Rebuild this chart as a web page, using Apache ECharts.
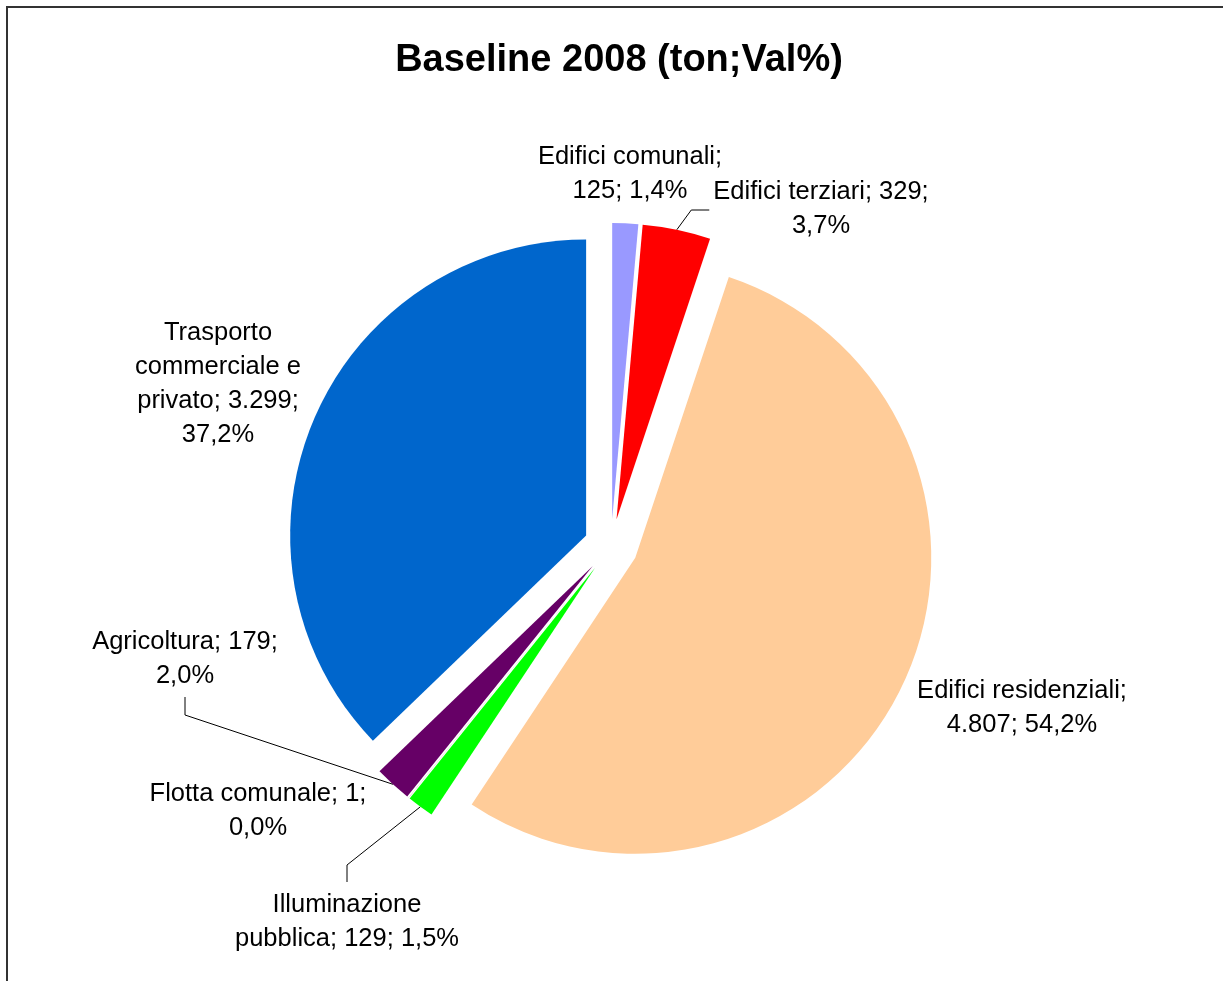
<!DOCTYPE html>
<html>
<head>
<meta charset="utf-8">
<title>Baseline 2008 (ton;Val%)</title>
<script src="https://cdn.jsdelivr.net/npm/echarts@6/dist/echarts.min.js"></script>
<style>
  html, body { margin: 0; padding: 0; background: #fff; }
  #chart { width: 1223px; height: 981px; }
</style>
</head>
<body>
<div id="chart"></div>
<script>
// dati (ton CO2, baseline 2008)
var categories = ['Edifici comunali', 'Edifici terziari', 'Edifici residenziali', 'Illuminazione pubblica', 'Flotta comunale', 'Agricoltura', 'Trasporto commerciale e privato'];
var tonnellate = [125, 329, 4807, 129, 1, 179, 3299];
var colori = ['#9999FF', '#FF0000', '#FFCC99', '#00FF00', '#993366', '#660066', '#0066CC'];

// etichette: centro, larghezza max della riga, lato dove attacca la linea guida
var labelCenter = [[630, 174], [821, 209], [1022, 708], [347, 922], [258, 811], [185, 659], [218, 384]];
var labelWidth = [200, 230, 225, 240, 235, 205, 180];
var labelLineSide = ['', 'left', '', 'top', '', 'bottom', ''];

var FONT = "'Liberation Sans', Arial, sans-serif";
var FONT_SIZE = 25.5;
var LINE_H = 34;
var OFFSET = 27;   // esplosione delle fette

var totale = tonnellate.reduce(function (a, b) { return a + b; }, 0);

function migliaia(v) {
  return String(v).replace(/\B(?=(\d{3})+(?!\d))/g, '.');
}

// a capo come fa Excel: parole intere entro la larghezza data
var ctx = document.createElement('canvas').getContext('2d');
ctx.font = FONT_SIZE + 'px ' + FONT;
function aCapo(testo, maxW) {
  var parole = testo.split(' ');
  var righe = [];
  var riga = '';
  parole.forEach(function (p) {
    var prova = riga ? riga + ' ' + p : p;
    if (riga && ctx.measureText(prova).width > maxW) {
      righe.push(riga);
      riga = p;
    } else {
      riga = prova;
    }
  });
  righe.push(riga);
  return righe;
}

var dati = categories.map(function (nome, i) {
  return {
    name: nome,
    value: tonnellate[i],
    selected: true,
    itemStyle: { color: colori[i] }
  };
});

var cornice = {
  type: 'rect',
  silent: true,
  shape: { x: 7, y: 7, width: 1400, height: 1200 },
  style: { fill: 'none', stroke: '#333', lineWidth: 2 }
};

var chart = echarts.init(document.getElementById('chart'));
chart.setOption({
  animation: false,
  backgroundColor: '#fff',
  title: {
    text: 'Baseline 2008 (ton;Val%)',
    left: 614,
    top: 37,
    textAlign: 'center',
    textStyle: { fontSize: 38, fontWeight: 'bold', color: '#000', fontFamily: FONT }
  },
  graphic: [cornice],
  series: [{
    type: 'pie',
    center: [611, 546],
    radius: 296,
    startAngle: 90,
    clockwise: true,
    selectedMode: 'multiple',
    selectedOffset: OFFSET,
    silent: true,
    emphasis: { disabled: true },
    label: { show: false },
    labelLine: { show: false },
    data: dati
  }]
});

// etichette e linee guida, ancorate alla geometria calcolata da ECharts
var lista = chart.getModel().getSeriesByIndex(0).getData();
var grafica = [cornice];
categories.forEach(function (nome, i) {
  var pct = (tonnellate[i] / totale * 100).toFixed(1).replace('.', ',');
  var righe = aCapo(nome + '; ' + migliaia(tonnellate[i]) + '; ' + pct + '%', labelWidth[i]);
  var lx = labelCenter[i][0], ly = labelCenter[i][1];
  grafica.push({
    type: 'text',
    silent: true,
    style: {
      text: righe.join('\n'),
      x: lx, y: ly,
      align: 'center', verticalAlign: 'middle',
      fontSize: FONT_SIZE, fontFamily: FONT, lineHeight: LINE_H,
      fill: '#000'
    }
  });

  var lato = labelLineSide[i];
  if (!lato) return;
  var lay = lista.getItemLayout(i);
  var mid = (lay.startAngle + lay.endAngle) / 2;
  var ax = lay.cx + Math.cos(mid) * (OFFSET + lay.r);
  var ay = lay.cy + Math.sin(mid) * (OFFSET + lay.r);
  var w = Math.max.apply(null, righe.map(function (r) { return ctx.measureText(r).width; }));
  var h = righe.length * LINE_H;
  var px, py, ex, ey;
  if (lato === 'left') { px = lx - w / 2 - 4; py = ly + 1; ex = px - 18; ey = py; }
  if (lato === 'top') { px = lx; py = ly - h / 2 - 6; ex = px; ey = py - 17; }
  if (lato === 'bottom') { px = lx; py = ly + h / 2 + 4; ex = px; ey = py + 18; }
  grafica.push({
    type: 'polyline',
    silent: true,
    shape: { points: [[ax, ay], [ex, ey], [px, py]] },
    style: { stroke: '#000', lineWidth: 1, fill: 'none' }
  });
});
chart.setOption({ graphic: grafica });
</script>
</body>
</html>
